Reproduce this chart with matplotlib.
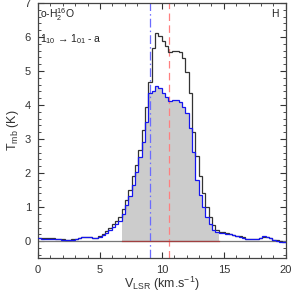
import numpy as np
import matplotlib
matplotlib.use('Agg')
import matplotlib.pyplot as plt
from matplotlib.ticker import MultipleLocator

plt.rcParams['font.family'] = ['Liberation Sans', 'DejaVu Sans']
plt.rcParams['mathtext.default'] = 'regular'

# channel grid (HIFI WBS, ~0.27 km/s)
dv = 0.27
vel = 0.135 + dv * np.arange(74)

t_black = [0.10, 0.09, 0.08, 0.08, 0.08, 0.07, 0.06, 0.05, 0.04, 0.04,
           0.05, 0.07, 0.10, 0.12, 0.13, 0.12, 0.10, 0.10, 0.14, 0.22,
           0.30, 0.40, 0.50, 0.58, 0.72, 0.95, 1.20, 1.50, 1.90, 2.25,
           2.68, 3.26, 3.95, 4.69, 5.67, 6.12, 6.02, 5.88, 5.72, 5.57,
           5.58, 5.60, 5.55, 5.37, 4.98, 4.34, 3.21, 2.50, 1.90, 1.40,
           1.00, 0.72, 0.48, 0.34, 0.28, 0.27, 0.25, 0.22, 0.18, 0.16,
           0.14, 0.11, 0.07, 0.05, 0.05, 0.07, 0.10, 0.13, 0.12, 0.08,
           0.04, 0.02, -0.01, -0.03]

t_blue = [0.08, 0.07, 0.07, 0.07, 0.07, 0.06, 0.05, 0.04, 0.03, 0.03,
          0.04, 0.06, 0.09, 0.11, 0.12, 0.11, 0.09, 0.09, 0.11, 0.17,
          0.24, 0.32, 0.42, 0.50, 0.58, 0.80, 1.06, 1.32, 1.65, 2.04,
          2.48, 2.92, 3.51, 4.34, 4.40, 4.55, 4.49, 4.34, 4.24, 4.12,
          4.15, 4.15, 4.08, 3.95, 3.76, 3.31, 2.63, 1.79, 1.35, 1.01,
          0.72, 0.50, 0.33, 0.27, 0.25, 0.24, 0.22, 0.20, 0.17, 0.15,
          0.13, 0.10, 0.06, 0.05, 0.05, 0.07, 0.10, 0.14, 0.13, 0.08,
          0.04, 0.01, -0.02, -0.04]

# integration window (channel indices) and reference velocities
win_start, win_stop = 25, 54
v_blue = 9.0
v_red = 10.6

edges = np.append(vel - dv / 2, vel[-1] + dv / 2)

fig = plt.figure(figsize=(2.92, 2.92), dpi=100)
ax = fig.add_axes([0.13, 0.116, 0.849, 0.874])

ax.stairs(t_blue[win_start:win_stop], edges[win_start:win_stop + 1],
          fill=True, color='#cccccc', baseline=0, zorder=1)
ax.axhline(0, color='#777777', lw=0.9, zorder=2)
ax.plot([edges[win_start], edges[win_stop]], [0, 0], color='#a04040', lw=0.9, zorder=3)

ax.axvline(v_blue, color='#6b6bff', lw=0.9, ls=(0, (7, 2.5, 1.2, 2.5)), zorder=2)
ax.axvline(v_red, color='#ff8080', lw=0.9, ls=(0, (6, 3.5)), zorder=2)

ax.stairs(t_black, edges, color='#333333', lw=0.9, baseline=None, zorder=4)
ax.stairs(t_blue, edges, color='#1515ee', lw=0.9, baseline=None, zorder=5)

ax.set_xlim(0, 20)
ax.set_ylim(-0.5, 7)
ax.xaxis.set_major_locator(MultipleLocator(5))
ax.xaxis.set_minor_locator(MultipleLocator(1))
ax.yaxis.set_major_locator(MultipleLocator(1))
ax.yaxis.set_minor_locator(MultipleLocator(0.2))
ax.tick_params(which='both', direction='in', top=True, right=True,
               labelsize=8, colors='#333333')
ax.tick_params(axis='x', pad=5)
ax.tick_params(axis='y', pad=5)
ax.tick_params(which='major', length=4, width=0.8)
ax.tick_params(which='minor', length=2, width=0.6)
for s in ax.spines.values():
    s.set_color('#444444')
    s.set_linewidth(0.9)

ax.set_xlabel('V$_{LSR}$ (km.s$^{-1}$)', fontsize=9, color='#333333', labelpad=0)
ax.set_ylabel('T$_{mb}$ (K)', fontsize=9, color='#333333', labelpad=3)

ax.text(0.01, 0.955, 'o-H$_2^{16}$O', transform=ax.transAxes, fontsize=7.5,
        va='center', ha='left', color='#222222')
ax.text(0.01, 0.86, '1$_{10}$ \u2192 1$_{01}$ - a', transform=ax.transAxes,
        fontsize=7.5, va='center', ha='left', color='#222222')
ax.text(0.955, 0.955, 'H', transform=ax.transAxes, fontsize=7.5,
        va='center', ha='center', color='#222222')

plt.savefig('out.png', dpi=100)
